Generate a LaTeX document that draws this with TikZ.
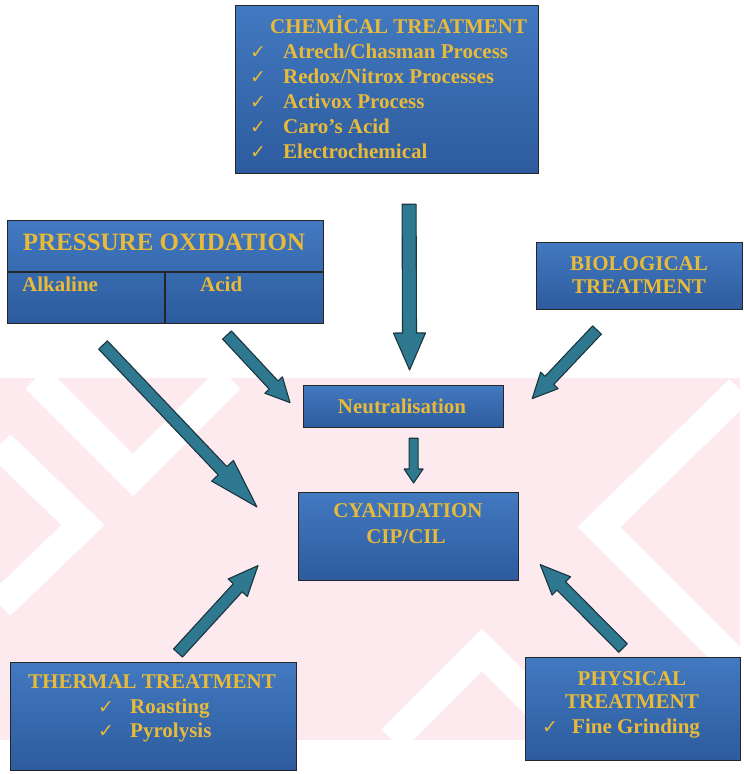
\documentclass[tikz,border=0pt]{standalone}
\usepackage{fontspec}
\setmainfont{Liberation Serif}
\newfontfamily\symfont{DejaVu Sans}
\usetikzlibrary{calc}
\definecolor{boxtop}{HTML}{4279C0}
\definecolor{boxbot}{HTML}{2D5B9E}
\definecolor{gold}{HTML}{E8BA3A}
\definecolor{arrfill}{HTML}{2E7890}
\definecolor{arrline}{HTML}{1B3540}
\definecolor{wmpink}{HTML}{FDEAEE}
\tikzset{
  box/.style={draw=black!85, line width=1.2pt, top color=boxtop, bottom color=boxbot, inner sep=0pt, rectangle},
  txt/.style={text=gold, inner sep=0pt, font=\bfseries\fontsize{21}{25}\selectfont},
  chk/.style={text=gold, inner sep=0pt, font=\symfont\fontsize{19}{21}\selectfont},
  blockarrow/.style={fill=arrfill, draw=arrline, line width=1.1pt, line join=round},
  wmband/.style={white, line width=30pt}
}
% #1 start, #2 end, #3 half shaft, #4 half head, #5 head length
\newcommand{\blockarr}[5]{%
  \path coordinate (hb) at ($(#2)!#5!(#1)$);
  \draw[blockarrow] ($(#1)!#3!90:(#2)$) -- ($(hb)!#3!90:(#2)$) -- ($(hb)!#4!90:(#2)$)
     -- (#2) -- ($(hb)!#4!-90:(#2)$) -- ($(hb)!#3!-90:(#2)$) -- ($(#1)!#3!-90:(#2)$) -- cycle;}
\begin{document}
\begin{tikzpicture}[x=1pt,y=-1pt]
\useasboundingbox (0,0) rectangle (744,774);
\fill[white] (0,0) rectangle (744,774);
% watermark
\begin{scope}
  \clip (0,378) rectangle (740,740);
  \fill[wmpink] (0,378) rectangle (740,740);
  \draw[wmband] (36,378) -- (133,475) -- (230,378);
  \draw[wmband] (0,445) -- (83,525) -- (0,605);
  \draw[wmband] (392,740) -- (482,650) -- (572,740);
  \draw[wmband] (740,390) -- (599,527) -- (740,668);
\end{scope}

% chemical treatment
\node[box, minimum width=303pt, minimum height=168pt, anchor=north west] (chem) at (235,5) {};
\node[txt, anchor=base west] (chemt) at (270,33) {CHEMİCAL TREATMENT};
\node[chk, anchor=base west] (chemc1) at (250,58) {✓};
\node[txt, anchor=base west] (chemi1) at (283,58) {Atrech/Chasman Process};
\node[chk, anchor=base west] (chemc2) at (250,83) {✓};
\node[txt, anchor=base west] (chemi2) at (283,83) {Redox/Nitrox Processes};
\node[chk, anchor=base west] (chemc3) at (250,108) {✓};
\node[txt, anchor=base west] (chemi3) at (283,108) {Activox Process};
\node[chk, anchor=base west] (chemc4) at (250,133) {✓};
\node[txt, anchor=base west] (chemi4) at (283,133) {Caro’s Acid};
\node[chk, anchor=base west] (chemc5) at (250,158) {✓};
\node[txt, anchor=base west] (chemi5) at (283,158) {Electrochemical};

% pressure oxidation
\node[box, minimum width=316pt, minimum height=103pt, anchor=north west] (pox) at (7,220) {};
\draw[black!85, line width=1.2pt] (pox.west |- 0,272) coordinate (poxl) -- (pox.east |- 0,272) coordinate (poxr);
\draw[black!85, line width=1.2pt] (165,272) coordinate (poxm) -- (poxm |- pox.south);
\node[txt, font=\bfseries\fontsize{25}{29}\selectfont, anchor=base] (poxt) at (164,250) {PRESSURE OXIDATION};
\node[txt, anchor=base west] (alk) at (22,291) {Alkaline};
\node[txt, anchor=base west] (acid) at (200,291) {Acid};

% biological
\node[box, minimum width=206pt, minimum height=67pt, anchor=north west] (bio) at (536,242) {};
\node[txt, anchor=base] (bio1) at (639,270) {BIOLOGICAL};
\node[txt, anchor=base] (bio2) at (639,293) {TREATMENT};

% neutralisation
\node[box, minimum width=200pt, minimum height=42pt, anchor=north west] (neut) at (303,385) {};
\node[txt, anchor=base] (neutt) at (402,413) {Neutralisation};

% cyanidation
\node[box, minimum width=220pt, minimum height=88pt, anchor=north west] (cyan) at (298,492) {};
\node[txt, anchor=base] (cyan1) at (408,517) {CYANIDATION};
\node[txt, anchor=base] (cyan2) at (406,543) {CIP/CIL};

% thermal
\node[box, minimum width=286pt, minimum height=108pt, anchor=north west] (therm) at (10,662) {};
\node[txt, anchor=base] (therm1) at (152,688) {THERMAL TREATMENT};
\node[chk, anchor=base west] (thermc1) at (98,713) {✓};
\node[txt, anchor=base west] (therm2) at (130,713) {Roasting};
\node[chk, anchor=base west] (thermc2) at (98,737) {✓};
\node[txt, anchor=base west] (therm3) at (130,737) {Pyrolysis};

% physical
\node[box, minimum width=215pt, minimum height=103pt, anchor=north west] (phys) at (525,657) {};
\node[txt, anchor=base] (phys1) at (632,685) {PHYSICAL};
\node[txt, anchor=base] (phys2) at (632,708) {TREATMENT};
\node[chk, anchor=base west] (physc) at (542,733) {✓};
\node[txt, anchor=base west] (phys3) at (572,733) {Fine Grinding};

% arrows
\coordinate (a1s) at ($(chem.south)+(22,30)$);
\coordinate (a1e) at ($(neut.north)+(6,-15)$);
\blockarr{a1s}{a1e}{7pt}{16pt}{37pt}
\coordinate (a2s) at (103,345);
\coordinate (a2e) at ($(cyan.north west)+(-41,15)$);
\blockarr{a2s}{a2e}{6pt}{15pt}{50pt}
\coordinate (a3s) at (227,335);
\coordinate (a3e) at ($(neut.west)+(-13,-4)$);
\blockarr{a3s}{a3e}{6pt}{12pt}{24pt}
\coordinate (a4s) at (597,330);
\coordinate (a4e) at ($(neut.east)+(28,-8)$);
\blockarr{a4s}{a4e}{6pt}{12pt}{25pt}
\coordinate (a5s) at ($(neut.south)+(10,10)$);
\coordinate (a5e) at ($(cyan.north)+(5,-9)$);
\blockarr{a5s}{a5e}{4.5pt}{9.5pt}{14pt}
\coordinate (a6s) at (178,653);
\coordinate (a6e) at ($(cyan.west)+(-40,29)$);
\blockarr{a6s}{a6e}{6pt}{13pt}{30pt}
\coordinate (a7s) at (623,648);
\coordinate (a7e) at ($(cyan.east)+(21,28)$);
\blockarr{a7s}{a7e}{6pt}{13pt}{30pt}
\end{tikzpicture}
\end{document}
